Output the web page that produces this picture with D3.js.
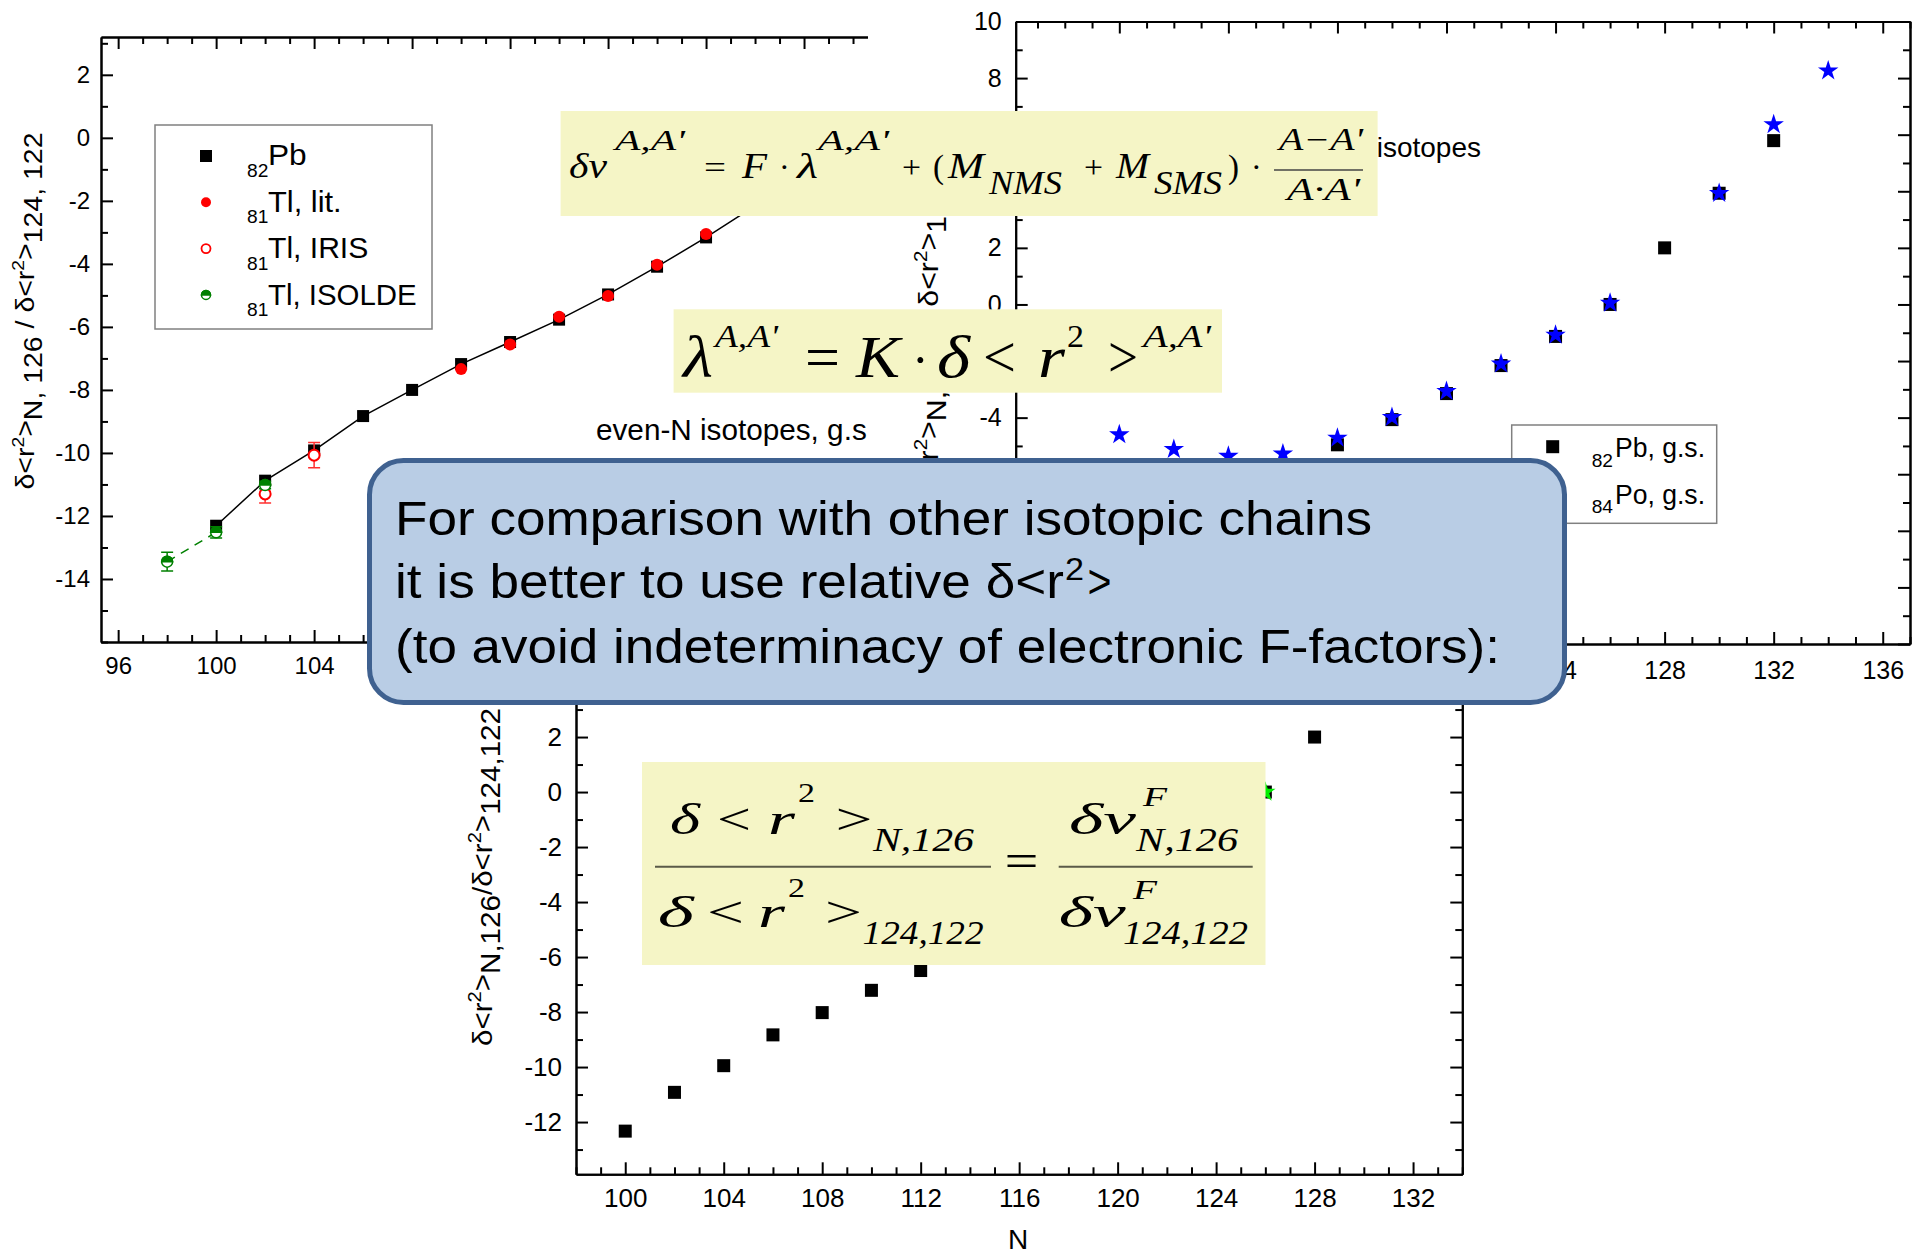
<!DOCTYPE html>
<html>
<head>
<meta charset="utf-8">
<script src="https://cdn.jsdelivr.net/npm/d3@7"></script>
<style>
  html, body { margin: 0; padding: 0; background: #ffffff; }
  svg { display: block; }
  text { fill: #000; }
</style>
</head>
<body>
<svg id="slide" width="1915" height="1256"></svg>
<script>
// ---------------- data ----------------
// Panel A: δ<r²>N,126 / δ<r²>124,122 for 82Pb and 81Tl
const pbN      = [100, 102, 104, 106, 108, 110, 112, 114, 116, 118, 120, 122, 124, 126];
const pbRatio  = [-12.31, -10.88, -9.92, -8.83, -8.00, -7.18, -6.48, -5.77, -4.97, -4.09, -3.16, -2.16, -1.13, 0.00];
const tlLitN     = [110, 112, 114, 116, 118, 120];
const tlLitRatio = [-7.34, -6.56, -5.68, -5.02, -4.03, -3.05];
const tlIrisN     = [102, 104];
const tlIrisRatio = [-11.30, -10.07];
const tlIrisErr   = [0.29, 0.40];
const tlIsoldeN     = [98, 100, 102];
const tlIsoldeRatio = [-13.45, -12.52, -11.02];
const tlIsoldeErr   = [0.30, 0.18, 0.12];

// Panel B: ground states of 82Pb and 84Po
const pbGsN     = [104, 106, 108, 110, 112, 114, 116, 118, 120, 122, 124, 126, 128, 130, 132];
const pbGsRatio = [-9.92, -8.83, -8.00, -7.18, -6.48, -5.77, -4.96, -4.07, -3.15, -2.16, -1.13, 0.00, 2.00, 3.93, 5.79];
const poGsN     = [108, 110, 112, 114, 116, 118, 120, 122, 124, 126, 130, 132, 134];
const poGsRatio = [-4.60, -5.12, -5.36, -5.28, -4.72, -3.99, -3.07, -2.10, -1.08, 0.05, 3.93, 6.36, 8.26];

// Panel C: 82Pb ratios, with the N = 126 reference point
const pbCN     = [100, 102, 104, 106, 108, 110, 112, 114, 116, 118, 120, 122, 124, 126, 128, 130, 132];
const pbCRatio = [-12.33, -10.92, -9.95, -8.83, -8.02, -7.21, -6.49, -5.77, -4.97, -4.09, -3.16, -2.16, -1.13, 0.00, 2.00, 3.93, 5.79];
const refN     = [126];
const refRatio = [0.00];

// tick labels
const xTicksA = [96, 100, 104, 108, 112, 116, 120, 124, 128, 132];
const yTicksA = [-14, -12, -10, -8, -6, -4, -2, 0, 2];
const xTicksB = [108, 112, 116, 120, 124, 128, 132, 136];
const yTicksB = [-12, -10, -8, -6, -4, -2, 0, 2, 4, 6, 8, 10];
const xTicksC = [100, 104, 108, 112, 116, 120, 124, 128, 132];
const yTicksC = [-12, -10, -8, -6, -4, -2, 0, 2, 4];

// ---------------- helpers ----------------
const svg = d3.select('#slide');
const SANS = '"Liberation Sans", Arial, sans-serif';
const SERIF = '"Liberation Serif", "Times New Roman", serif';

function minorOf(domain, majors) {
  const lo = Math.ceil(domain[0]), hi = Math.floor(domain[1]);
  return d3.range(lo, hi + 1).filter(v => !majors.includes(v));
}

// Origin-style frame: axes on four sides, inward major and minor ticks
function frame(g, x, y, o) {
  const [x0, x1] = x.range();
  const [y0, y1] = y.range();
  const xMin = minorOf(x.domain(), o.xMaj);
  const yMin = minorOf([Math.min(...y.domain()), Math.max(...y.domain())], o.yMaj);
  const sides = [
    { gen: d3.axisBottom, sc: x, tr: `translate(0,${y0})`, maj: o.xMaj, min: xMin, lab: true, pad: o.xPad },
    { gen: d3.axisTop,    sc: x, tr: `translate(0,${y1})`, maj: o.xMaj, min: xMin, lab: false, pad: 0 },
    { gen: d3.axisLeft,   sc: y, tr: `translate(${x0},0)`, maj: o.yMaj, min: yMin, lab: true, pad: o.yPad },
    { gen: d3.axisRight,  sc: y, tr: `translate(${x1},0)`, maj: o.yMaj, min: yMin, lab: false, pad: 0 }
  ];
  sides.forEach(s => {
    const mi = g.append('g').attr('transform', s.tr)
      .call(s.gen(s.sc).tickValues(s.min).tickSize(-7).tickSizeOuter(0).tickFormat(() => ''));
    const ma = g.append('g').attr('transform', s.tr)
      .call(s.gen(s.sc).tickValues(s.maj).tickSize(-12).tickSizeOuter(0).tickPadding(s.pad)
        .tickFormat(s.lab ? (d => String(d)) : (() => '')));
    [mi, ma].forEach(a => {
      a.attr('font-family', SANS).attr('font-size', o.fs);
      a.select('.domain').attr('stroke', '#000').attr('stroke-width', 2);
      a.selectAll('.tick line').attr('stroke', '#000').attr('stroke-width', 2);
      a.selectAll('.tick text').attr('fill', '#000');
    });
  });
}

function squares(g, x, y, ns, vs, size) {
  g.selectAll(null).data(ns).enter().append('rect')
    .attr('x', (d) => x(d) - size / 2)
    .attr('y', (d, i) => y(vs[i]) - size / 2)
    .attr('width', size).attr('height', size).attr('fill', '#000');
}

function stars(g, x, y, ns, vs, size, color) {
  const sym = d3.symbol().type(d3.symbolStar).size(size);
  g.selectAll(null).data(ns).enter().append('path')
    .attr('d', sym)
    .attr('transform', (d, i) => `translate(${x(d)},${y(vs[i])})`)
    .attr('fill', color);
}

function halfCircle(g, cx, cy, r, color) {
  g.append('circle').attr('cx', cx).attr('cy', cy).attr('r', r)
    .attr('fill', '#fff').attr('stroke', color).attr('stroke-width', 1.5);
  g.append('path')
    .attr('d', `M${cx - r},${cy} A${r},${r} 0 0 1 ${cx + r},${cy} Z`)
    .attr('fill', color).attr('stroke', color).attr('stroke-width', 1.5);
}

function errorBar(g, cx, y, v, e, color) {
  const c = 6;
  g.append('path')
    .attr('d', `M${cx},${y(v + e)}V${y(v - e)}M${cx - c},${y(v + e)}H${cx + c}M${cx - c},${y(v - e)}H${cx + c}`)
    .attr('stroke', color).attr('stroke-width', 1.5).attr('fill', 'none');
}

// δ<r²>N,126 / δ<r²>124,122 axis title, rotated
function ratioTitle(g, cx, cy, fs, len, compact) {
  const t = g.append('text')
    .attr('transform', `translate(${cx},${cy}) rotate(-90)`)
    .attr('text-anchor', 'middle').attr('font-size', fs)
    .style('font-family', SANS);
  t.append('tspan').text('δ<r');
  t.append('tspan').attr('font-size', fs * 0.68).attr('dy', -fs * 0.42).text('2');
  t.append('tspan').attr('dy', fs * 0.42).text('>');
  t.append('tspan').attr('dy', fs * 0.3).text(compact ? 'N,126' : 'N, 126');
  t.append('tspan').attr('dy', -fs * 0.3).text(compact ? '/δ<r' : ' / δ<r');
  t.append('tspan').attr('font-size', fs * 0.68).attr('dy', -fs * 0.42).text('2');
  t.append('tspan').attr('dy', fs * 0.42).text('>');
  t.append('tspan').attr('dy', fs * 0.3).text(compact ? '124,122' : '124, 122');
  if (len) t.attr('textLength', len).attr('lengthAdjust', 'spacingAndGlyphs');
}

function word(g, s, x, y, fs, w, opt = {}) {
  const t = g.append('text').attr('x', x).attr('y', y).attr('font-size', fs).text(s)
    .style('font-family', opt.serif ? SERIF : SANS);
  if (opt.anchor) t.attr('text-anchor', opt.anchor);
  if (opt.italic) t.style('font-style', 'italic');
  if (w) t.attr('textLength', w).attr('lengthAdjust', 'spacingAndGlyphs');
  return t;
}

// ---------------- panel A ----------------
const gA = svg.append('g');
const xA = d3.scaleLinear().domain([95.3, 132]).range([101, 1000]);
const yA = d3.scaleLinear().domain([-16, 3.2]).range([642, 37]);
frame(gA, xA, yA, { xMaj: xTicksA, yMaj: yTicksA, fs: 24, xPad: 15, yPad: 11 });

// Pb trend line and the dashed ISOLDE extension
gA.append('path')
  .attr('d', d3.line().x(d => xA(d)).y((d, i) => yA(pbRatio[i]))(pbN))
  .attr('fill', 'none').attr('stroke', '#000').attr('stroke-width', 1.5);
gA.append('path')
  .attr('d', d3.line().x(d => xA(d)).y((d, i) => yA(tlIsoldeRatio[i]))(tlIsoldeN.slice(0, 2)))
  .attr('fill', 'none').attr('stroke', '#008000').attr('stroke-width', 1.5).attr('stroke-dasharray', '9,7');

squares(gA, xA, yA, pbN, pbRatio, 12);
gA.selectAll(null).data(tlLitN).enter().append('circle')
  .attr('cx', d => xA(d)).attr('cy', (d, i) => yA(tlLitRatio[i])).attr('r', 6).attr('fill', '#ff0000');
tlIrisN.forEach((n, i) => {
  errorBar(gA, xA(n), yA, tlIrisRatio[i], tlIrisErr[i], '#ff3030');
  gA.append('circle').attr('cx', xA(n)).attr('cy', yA(tlIrisRatio[i])).attr('r', 5.5)
    .attr('fill', '#fff').attr('stroke', '#ff0000').attr('stroke-width', 2);
});
tlIsoldeN.forEach((n, i) => {
  errorBar(gA, xA(n), yA, tlIsoldeRatio[i], tlIsoldeErr[i], '#008000');
  halfCircle(gA, xA(n), yA(tlIsoldeRatio[i]), 5.5, '#008000');
});

ratioTitle(gA, 34, 311, 25, 357, false);
word(gA, 'even-N isotopes, g.s.', 596, 440, 30, 279);

// legend of panel A
const lgA = gA.append('g');
lgA.append('rect').attr('x', 155).attr('y', 125).attr('width', 277).attr('height', 204)
  .attr('fill', '#fff').attr('stroke', '#808080').attr('stroke-width', 1.5);
const legA = [
  { sub: '82', main: 'Pb', w: 38.7 },
  { sub: '81', main: 'Tl, lit.', w: 73.7 },
  { sub: '81', main: 'Tl, IRIS', w: 100.3 },
  { sub: '81', main: 'Tl, ISOLDE', w: 148.7 }
];
legA.forEach((r, i) => {
  const my = 156 + i * 46.3, by = 165 + i * 46.6;
  word(lgA, r.sub, 247, by + 11.5, 19, 21.3);
  word(lgA, r.main, 268, by, 30, r.w);
  if (i === 0) lgA.append('rect').attr('x', 200).attr('y', my - 6).attr('width', 12).attr('height', 12).attr('fill', '#000');
  if (i === 1) lgA.append('circle').attr('cx', 206).attr('cy', my).attr('r', 5).attr('fill', '#ff0000');
  if (i === 2) lgA.append('circle').attr('cx', 206).attr('cy', my).attr('r', 4.5).attr('fill', '#fff').attr('stroke', '#ff0000').attr('stroke-width', 1.8);
  if (i === 3) halfCircle(lgA, 206, my, 4.5, '#008000');
});

// ---------------- panel B ----------------
const gB = svg.append('g');
gB.append('rect').attr('x', 868).attr('y', 0).attr('width', 1047).attr('height', 705).attr('fill', '#fff');
const xB = d3.scaleLinear().domain([104.2, 137]).range([1015.7, 1910]);
const yB = d3.scaleLinear().domain([-12, 10]).range([644, 21.5]);
frame(gB, xB, yB, { xMaj: xTicksB, yMaj: yTicksB, fs: 25, xPad: 17, yPad: 14 });
ratioTitle(gB, 938, 305, 27, 380, false);
word(gB, 'even-N isotopes', 1481, 157, 28, null, { anchor: 'end' });
squares(gB, xB, yB, pbGsN, pbGsRatio, 13);
stars(gB, xB, yB, poGsN, poGsRatio, 130, '#0000ff');

const lgB = gB.append('g');
lgB.append('rect').attr('x', 1511.7).attr('y', 425).attr('width', 205).attr('height', 98.3)
  .attr('fill', '#fff').attr('stroke', '#808080').attr('stroke-width', 1.5);
lgB.append('rect').attr('x', 1546.2).attr('y', 440.2).attr('width', 13).attr('height', 13).attr('fill', '#000');
lgB.append('path').attr('d', d3.symbol().type(d3.symbolStar).size(130))
  .attr('transform', 'translate(1552.7,493)').attr('fill', '#0000ff');
word(lgB, '82', 1591.7, 466.7, 19, 21.3);
word(lgB, 'Pb, g.s.', 1615, 457.3, 27, 90);
word(lgB, '84', 1591.7, 513, 19, 21.3);
word(lgB, 'Po, g.s.', 1615, 504, 27, 90);

// ---------------- panel C ----------------
const gC = svg.append('g');
gC.append('rect').attr('x', 440).attr('y', 690).attr('width', 1050).attr('height', 566).attr('fill', '#fff');
const xC = d3.scaleLinear().domain([98, 134]).range([576, 1462.3]);
const yC = d3.scaleLinear().domain([-13.9, 4.1]).range([1174.3, 679.3]);
frame(gC, xC, yC, { xMaj: xTicksC, yMaj: yTicksC, fs: 26, xPad: 14, yPad: 14 });
ratioTitle(gC, 492, 877, 27, 338, true);
word(gC, 'N', 1018, 1249, 28, null, { anchor: 'middle' });
squares(gC, xC, yC, pbCN, pbCRatio, 13);
stars(gC, xC, yC, refN, refRatio, 130, '#00ee00');

// ---------------- formula boxes ----------------
const YEL = '#f5f5c6';
const fm = svg.append('g');

// δν = F·λ + (M_NMS + M_SMS)·(A−A')/(A·A')
fm.append('rect').attr('x', 560.6).attr('y', 111).attr('width', 817).attr('height', 105).attr('fill', YEL);
const it = { serif: true, italic: true }, up = { serif: true };
word(fm, 'δν', 569, 178, 36, 38, it);
word(fm, "A,A'", 615, 150, 29, 70, it);
word(fm, '=', 704, 178, 32, 22, up);
word(fm, 'F', 742, 178, 36, 25, it);
word(fm, '·', 779, 178, 32, null, up);
word(fm, 'λ', 797, 178, 36, 21, it);
word(fm, "A,A'", 818, 150, 29, 71, it);
word(fm, '+', 902, 178, 32, 19, up);
word(fm, '(', 933, 178, 34, 11, up);
word(fm, 'M', 948, 178, 36, 36, it);
word(fm, 'NMS', 989, 194, 34, 73, it);
word(fm, '+', 1084, 178, 32, 19, up);
word(fm, 'M', 1116, 178, 36, 33, it);
word(fm, 'SMS', 1154, 194, 34, 68, it);
word(fm, ')', 1228, 178, 34, 11, up);
word(fm, '·', 1251, 178, 32, null, up);
word(fm, "A−A'", 1279, 150, 31, 84, it);
fm.append('line').attr('x1', 1274).attr('x2', 1363).attr('y1', 170).attr('y2', 170).attr('stroke', '#444').attr('stroke-width', 1.5);
word(fm, "A·A'", 1287, 200, 32, 73, it);

// λ = K·δ<r²>
fm.append('rect').attr('x', 673.6).attr('y', 309.3).attr('width', 548.4).attr('height', 83.4).attr('fill', YEL);
word(fm, 'λ', 683, 377, 60, 30, it);
word(fm, "A,A'", 715, 347, 32, 63, it);
word(fm, '=', 805, 377, 60, 35, up);
word(fm, 'K', 856, 377, 60, 44, it);
word(fm, '·', 912, 377, 50, null, up);
word(fm, 'δ', 937, 377, 60, 33, it);
word(fm, '<', 983, 377, 60, 33, up);
word(fm, 'r', 1038, 377, 60, 27, it);
word(fm, '2', 1067, 347, 32, 17, up);
word(fm, '>', 1108, 377, 60, 30, up);
word(fm, "A,A'", 1143, 347, 32, 68, it);

// δ<r²>N,126 / δ<r²>124,122 = δν^F N,126 / δν^F 124,122
fm.append('rect').attr('x', 642).attr('y', 762).attr('width', 623.5).attr('height', 203).attr('fill', YEL);
word(fm, 'δ', 670, 834, 44, 30, it);
word(fm, '<', 717, 834, 44, 34, up);
word(fm, 'r', 768, 834, 44, 27, it);
word(fm, '2', 798, 802, 28, 17, up);
word(fm, '>', 835.5, 834, 44, 37, up);
word(fm, 'N,126', 873, 851, 34, 101, it);
fm.append('line').attr('x1', 655).attr('x2', 991).attr('y1', 866.7).attr('y2', 866.7).attr('stroke', '#5a5a48').attr('stroke-width', 2);
word(fm, 'δ', 657.7, 927, 44, 36, it);
word(fm, '<', 707, 927, 44, 37, up);
word(fm, 'r', 758, 927, 44, 27, it);
word(fm, '2', 788, 897, 28, 17, up);
word(fm, '>', 825, 927, 44, 37, up);
word(fm, '124,122', 862.6, 944, 34, 121, it);
word(fm, '=', 1004.5, 877, 48, 34, up);
word(fm, 'δν', 1069, 834, 44, 67, it);
word(fm, 'F', 1143, 806, 28, 24, it);
word(fm, 'N,126', 1136, 851, 34, 102, it);
fm.append('line').attr('x1', 1058.7).attr('x2', 1252.7).attr('y1', 866.7).attr('y2', 866.7).attr('stroke', '#5a5a48').attr('stroke-width', 2);
word(fm, 'δν', 1058.7, 927, 44, 67, it);
word(fm, 'F', 1133, 899, 28, 24, it);
word(fm, '124,122', 1123, 944, 34, 125, it);

// ---------------- call-out ----------------
const co = svg.append('g');
co.append('rect').attr('x', 369.5).attr('y', 460.5).attr('width', 1195).attr('height', 242).attr('rx', 34)
  .attr('fill', '#b9cde5').attr('stroke', '#3f6190').attr('stroke-width', 5);
word(co, 'For comparison with other isotopic chains', 395, 535, 49, 977);
word(co, 'it is better to use relative δ<r', 395, 598, 49, 669);
word(co, '2', 1065, 580, 31, 19);
word(co, '>', 1087.6, 598, 49, 24);
word(co, '(to avoid indeterminacy of electronic F-factors):', 395, 663, 49, 1105);
</script>
</body>
</html>
